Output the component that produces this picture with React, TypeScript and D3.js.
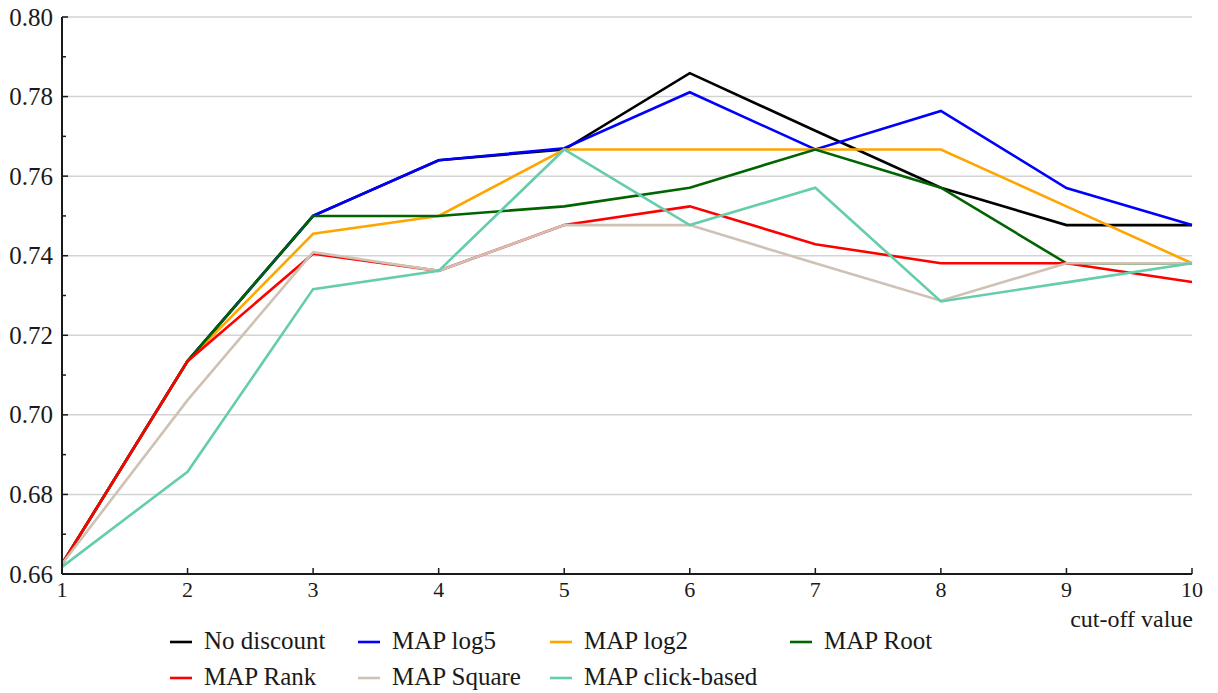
import React from 'react';
import * as d3 from 'd3';

// cut-off values on the x axis
const cutoffs = [1, 2, 3, 4, 5, 6, 7, 8, 9, 10];
const yTicks = [0.66, 0.68, 0.70, 0.72, 0.74, 0.76, 0.78, 0.80];

// series values
const noDiscount = [0.6625, 0.7135, 0.750, 0.764, 0.7667, 0.7859, 0.7714, 0.7571, 0.7477, 0.7477];
const mapLog5 = [0.6625, 0.7135, 0.750, 0.764, 0.7670, 0.7811, 0.7667, 0.7764, 0.7570, 0.7477];
const mapLog2 = [0.6625, 0.7135, 0.7455, 0.750, 0.7667, 0.7667, 0.7667, 0.7667, 0.7524, 0.7381];
const mapRoot = [0.6625, 0.7135, 0.750, 0.750, 0.7524, 0.7571, 0.7667, 0.7571, 0.7381, 0.7381];
const mapRank = [0.6625, 0.7135, 0.7405, 0.7362, 0.7477, 0.7524, 0.7429, 0.7381, 0.7381, 0.7334];
const mapSquare = [0.6625, 0.7037, 0.7409, 0.7362, 0.7477, 0.7477, 0.7381, 0.7287, 0.7381, 0.7381];
const mapClick = [0.6618, 0.6857, 0.7316, 0.7362, 0.7667, 0.7477, 0.7571, 0.7285, 0.7333, 0.7381];

const seriesNames = ['No discount', 'MAP log5', 'MAP log2', 'MAP Root', 'MAP Rank', 'MAP Square', 'MAP click-based'];
const seriesValues = [noDiscount, mapLog5, mapLog2, mapRoot, mapRank, mapSquare, mapClick];
const seriesColors = ['#000000', '#0000ff', '#ffa500', '#006400', '#ff0000', '#cfc2b4', '#66cdaa'];

const width = 1218;
const height = 693;
const margin = { top: 17, right: 26, bottom: 119, left: 62 };
const ink = '#1a1a1a';
const serif: React.CSSProperties = { fontFamily: "'Liberation Serif', 'Times New Roman', serif" };

const App: React.FC = () => {
  const x = d3.scaleLinear()
    .domain([1, 10])
    .range([margin.left, width - margin.right]);

  const y = d3.scaleLinear()
    .domain([0.66, 0.80])
    .range([height - margin.bottom, margin.top]);

  const line = d3.line<number>()
    .x((_, i) => x(cutoffs[i]))
    .y(d => y(d));

  const minorTicks = d3.range(0.67, 0.80, 0.02);
  const fmtY = d3.format('.2f');
  const x0 = margin.left;
  const y0 = height - margin.bottom;

  // legend layout
  const colX = [170, 358, 550, 790];
  const rowY = [642, 678];

  return (
    <div style={{ position: 'absolute', left: 0, top: 0 }}>
      <style>{`svg text { font-family: 'Liberation Serif', 'Times New Roman', serif !important; }`}</style>
      <svg width={width} height={height}>
        {/* grid */}
        {yTicks.slice(1).map(t => (
          <line key={`g${t}`} x1={x0} x2={width - margin.right} y1={y(t)} y2={y(t)} stroke="#d3d3d3" strokeWidth={1.5} />
        ))}

        {/* series */}
        {seriesValues.map((vals, i) => (
          <path key={seriesNames[i]} d={line(vals) || ''} fill="none" stroke={seriesColors[i]} strokeWidth={2.6} />
        ))}

        {/* x axis */}
        <line x1={x0} x2={width - margin.right} y1={y0} y2={y0} stroke={ink} strokeWidth={2} />
        {cutoffs.map(c => (
          <g key={`x${c}`} transform={`translate(${x(c)},${y0})`}>
            <line y1={0} y2={-6} stroke={ink} strokeWidth={1.5} />
            <text y={23} textAnchor="middle" style={serif} fontSize={22} fill={ink}>{c}</text>
          </g>
        ))}
        <text x={width - margin.right + 1} y={627} textAnchor="end" style={serif} fontSize={24} fill={ink}>cut-off value</text>

        {/* y axis */}
        <line x1={x0} x2={x0} y1={margin.top} y2={y0} stroke={ink} strokeWidth={2} />
        {yTicks.map(t => (
          <g key={`y${t}`} transform={`translate(${x0},${y(t)})`}>
            <line x1={0} x2={6} stroke={ink} strokeWidth={1.5} />
            <text x={-9} dy="0.34em" textAnchor="end" style={serif} fontSize={25} fill={ink}>{fmtY(t)}</text>
          </g>
        ))}
        {minorTicks.map(t => (
          <line key={`m${t}`} x1={x0} x2={x0 + 4} y1={y(t)} y2={y(t)} stroke={ink} strokeWidth={1.5} />
        ))}

        {/* legend */}
        {seriesNames.map((name, i) => {
          const cx = colX[i % 4];
          const cy = rowY[Math.floor(i / 4)];
          return (
            <g key={`l${name}`}>
              <line x1={cx} x2={cx + 22} y1={cy} y2={cy} stroke={seriesColors[i]} strokeWidth={2.6} />
              <text x={cx + 34} y={cy + 7} style={serif} fontSize={25} fill={ink}>{name}</text>
            </g>
          );
        })}
      </svg>
    </div>
  );
};

export default App;
